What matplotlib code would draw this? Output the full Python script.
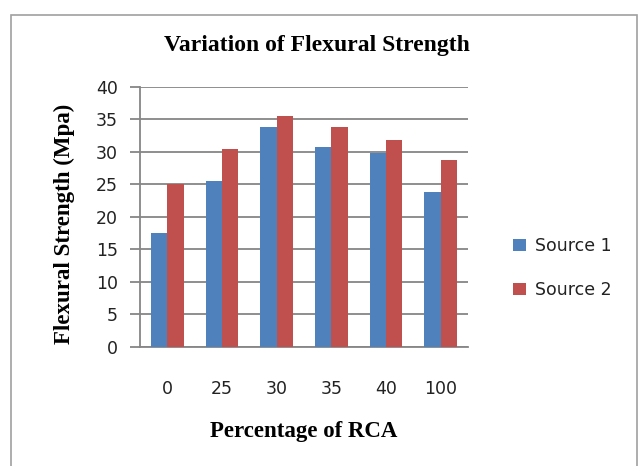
import matplotlib
matplotlib.use("Agg")
import matplotlib.pyplot as plt
import numpy as np
from matplotlib.patches import Rectangle

categories = ["0", "25", "30", "35", "40", "100"]
source1 = [17.6, 25.5, 33.8, 30.7, 29.9, 23.9]
source2 = [25.0, 30.4, 35.6, 33.8, 31.9, 28.8]

blue = "#4F81BD"
red = "#C0504D"
grid_col = "#868686"

fig = plt.figure(figsize=(6.4, 4.66), dpi=100)
ax = fig.add_axes([0.219, 0.2554, 0.512, 0.558])

x = np.arange(len(categories))
w = 0.3
ax.bar(x - w/2, source1, w, color=blue, label="Source 1", zorder=3)
ax.bar(x + w/2, source2, w, color=red, label="Source 2", zorder=3)

ax.set_xlim(-0.5, len(categories) - 0.5)
ax.set_ylim(0, 40)
ax.set_yticks(range(0, 41, 5))
ax.set_xticks(x)
ax.set_xticklabels(categories)
ax.yaxis.grid(True, color=grid_col, linewidth=1.3, zorder=0)
for s in ["top", "right"]:
    ax.spines[s].set_visible(False)
ax.spines["left"].set_color(grid_col)
ax.spines["left"].set_linewidth(1.3)
ax.spines["bottom"].set_color(grid_col)
ax.spines["bottom"].set_linewidth(1.3)
ax.tick_params(axis="y", length=7, width=1.3, color=grid_col, labelsize=12.5,
               pad=9, labelcolor="#222222")
ax.tick_params(axis="x", length=0, labelsize=12.5, pad=24, labelcolor="#222222")

ax.set_ylabel("Flexural Strength (Mpa)", fontfamily="Liberation Serif",
              fontweight="bold", fontsize=16.5)
ax.yaxis.set_label_coords(-0.2, 0.475)
ax.set_xlabel("Percentage of RCA", fontfamily="Liberation Serif",
              fontweight="bold", fontsize=16.5, labelpad=16)
fig.text(0.495, 0.902, "Variation of Flexural Strength", ha="center", va="center",
         fontfamily="Liberation Serif", fontweight="bold", fontsize=17)

leg = fig.legend(loc="center left", bbox_to_anchor=(0.777, 0.425), frameon=False,
                 prop={"size": 12.5}, handlelength=0.75,
                 handleheight=0.75, labelspacing=1.5, handletextpad=0.55)
for t in leg.get_texts():
    t.set_color("#222222")

fig.patches.append(Rectangle((11/640, -0.05), 626/640, 1.05 - 15/466,
                             transform=fig.transFigure, fill=False,
                             edgecolor="#A0A0A0", linewidth=1.2))

fig.savefig("out.png", dpi=100)
